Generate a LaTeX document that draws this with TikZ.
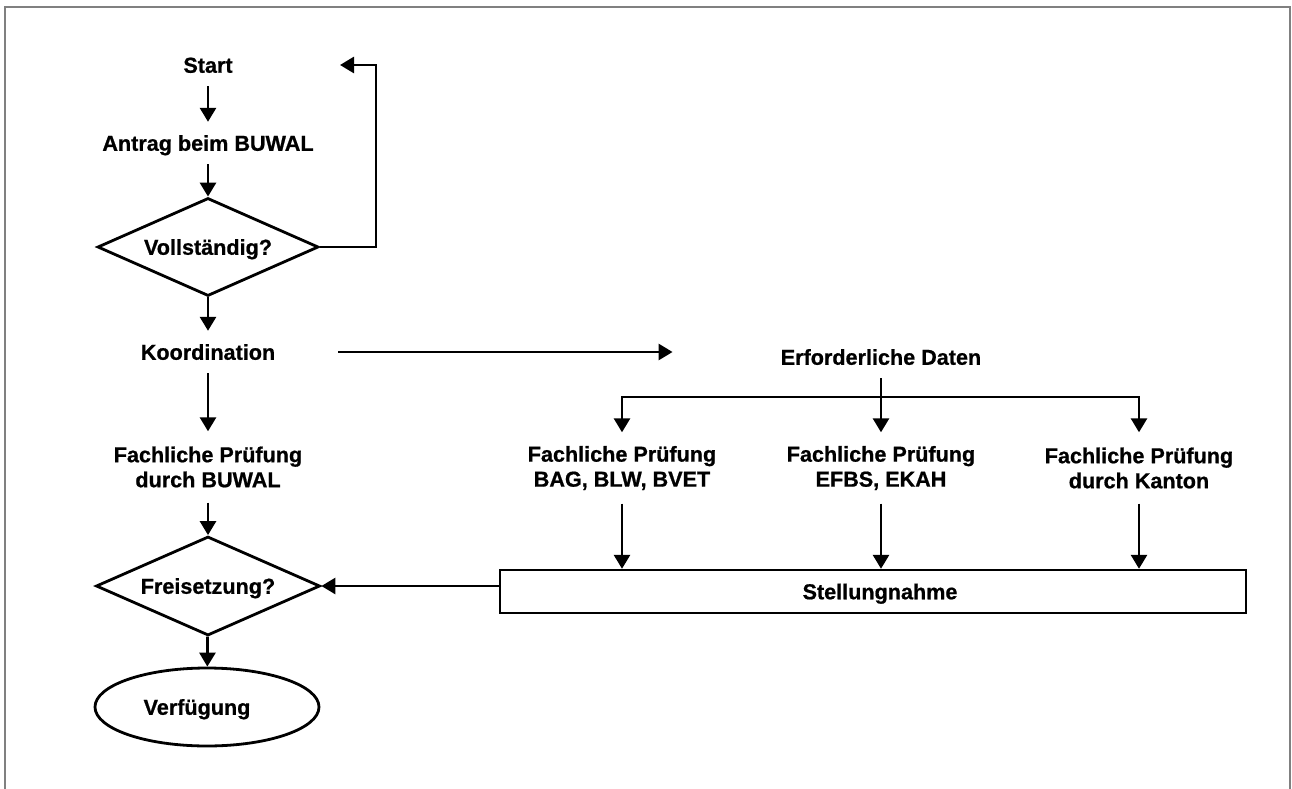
\documentclass[tikz,border=0pt]{standalone}
\usepackage{fontspec}
\setmainfont{Liberation Sans}[BoldFeatures={FakeBold=0.8}]
\usetikzlibrary{arrows.meta,shapes.geometric}
\begin{document}
\begin{tikzpicture}[x=1pt,y=-1pt,
  font=\fontsize{21.6}{25}\selectfont\bfseries,
  lbl/.style={inner sep=0pt, text height=15.5pt, text depth=0pt, minimum height=42pt},
  lbltwo/.style={inner sep=0pt, align=center, minimum height=71pt},
  dec/.style={diamond, draw, line width=2.8pt, aspect=2.25, inner sep=0pt,
              text height=15.5pt, text depth=0pt, minimum width=221pt, minimum height=98pt},
  arr/.style={line width=2.8pt, -{Triangle[length=14pt,width=16pt]}},
  frame/.style={draw=black!50, line width=1.8pt}]
\useasboundingbox (0,0) rectangle (1292,789);
\draw[frame] (5,789) -- (5,7) -- (1290,7) -- (1290,789);

% left column
\node[lbl] (start) at (208,65) {Start};
\node[lbl] (antrag) at (208,143) {Antrag beim BUWAL};
\node[dec] (voll) at (208,247) {Vollständig?};
\node[lbl] (koord) at (208,352) {Koordination};
\node[lbltwo] (fbuwal) at (208,467) {Fachliche Prüfung\\durch BUWAL};
\node[dec, minimum width=224pt, minimum height=99pt] (frei) at (208,586) {Freisetzung?};
\node[ellipse, draw, line width=2.8pt, inner sep=0pt, text height=15.5pt, text depth=0pt,
      minimum width=224pt, minimum height=78pt] (verf) at (207,707) {\hspace*{-20pt}Verfügung};

% right part
\node[lbl] (erf) at (881,357) {Erforderliche Daten};
\node[lbltwo] (fa) at (622,468) {Fachliche Prüfung\\BAG, BLW, BVET};
\node[lbltwo] (fb) at (881,468) {Fachliche Prüfung\\EFBS, EKAH};
\node[lbltwo] (fc) at (1139,468) {Fachliche Prüfung\\durch Kanton};
\node[draw, line width=2.4pt, inner sep=0pt, text height=15.5pt, text depth=0pt,
      minimum width=746pt, minimum height=43pt] (stell) at (873,591.5) {\hspace*{14pt}Stellungnahme};

% helper coordinates
\coordinate (loopx) at (376,247);
\coordinate (loopTip) at (340,65);
\coordinate (bar) at (881,397);

% connectors
\draw[arr] (start) -- (antrag);
\draw[arr] (antrag) -- (voll);
\draw[arr] (voll.east) -- (loopx) |- (loopTip);
\draw[arr] (voll) -- (koord);
\draw[arr] (koord) -- (fbuwal);
\draw[arr] (fbuwal) -- (frei);
\draw[arr] (frei) -- (verf);
\draw[arr, shorten <=63pt, shorten >=108pt] (koord.east) -- (koord.east -| erf.west);
\draw[arr] (erf) -- (fb);
\draw[arr] (bar) -| (fa);
\draw[arr] (bar) -| (fc);
\draw[arr] (fa) -- (fa |- stell.north);
\draw[arr] (fb) -- (fb |- stell.north);
\draw[arr] (fc) -- (fc |- stell.north);
\draw[arr] (stell.west |- frei.east) -- (frei.east);
\end{tikzpicture}
\end{document}
